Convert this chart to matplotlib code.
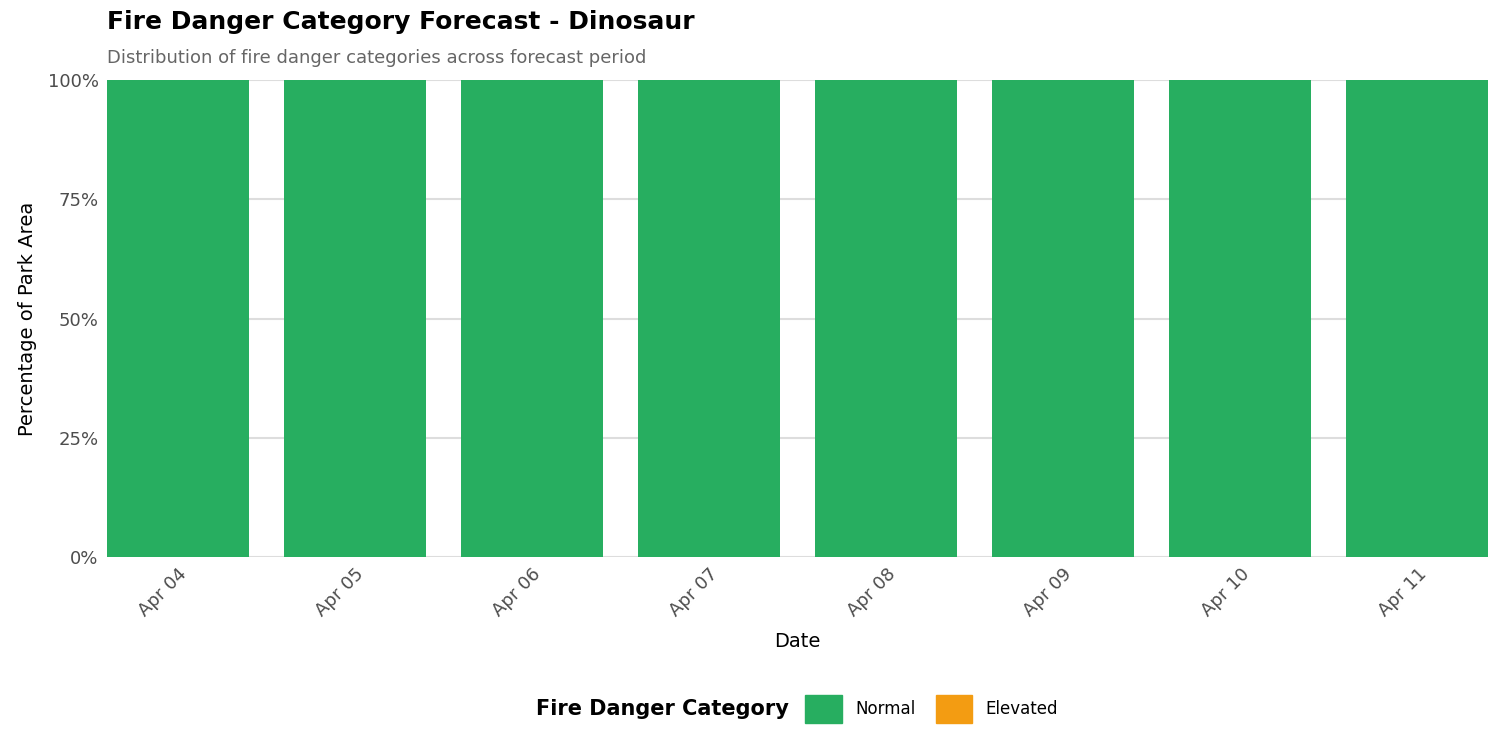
import matplotlib
matplotlib.use("Agg")
import matplotlib.pyplot as plt
from matplotlib.ticker import PercentFormatter
from matplotlib.patches import Patch

dates = ["Apr 04", "Apr 05", "Apr 06", "Apr 07", "Apr 08", "Apr 09", "Apr 10", "Apr 11"]
normal = [1.0] * 8
elevated = [0.0] * 8
categories = ["Normal", "Elevated"]
colors = ["#27AE60", "#F39C12"]

plt.rcParams['font.family'] = ['DejaVu Sans']
fig = plt.figure(figsize=(15, 7.5), dpi=100)
ax = fig.add_axes([107/1500, 1-557/750, (1488-107)/1500, (557-80)/750])
x = range(len(dates))
ax.bar(x, normal, width=0.8, color=colors[0], zorder=2)
ax.bar(x, elevated, width=0.8, bottom=normal, color=colors[1], zorder=2)
ax.set_xlim(-0.4, 7.4)
ax.set_ylim(0, 1)
ax.set_yticks([0, .25, .5, .75, 1])
ax.yaxis.set_major_formatter(PercentFormatter(1.0, decimals=0))
ax.set_xticks(list(x))
ax.set_xticklabels(dates, rotation=45, ha="right", rotation_mode="anchor")
ax.tick_params(axis='both', length=0, labelsize=13, colors="#4d4d4d", pad=6)
ax.grid(axis='y', color="#dddddd", linewidth=1.5, zorder=0)
for s in ax.spines.values():
    s.set_visible(False)
ax.set_xlabel("Date", fontsize=14, labelpad=8)
ax.set_ylabel("Percentage of Park Area", fontsize=14, labelpad=8)
fig.text(107/1500, 1-22/750, "Fire Danger Category Forecast - Dinosaur", fontsize=18,
         fontweight="bold", va="center")
fig.text(107/1500, 1-58/750, "Distribution of fire danger categories across forecast period",
         fontsize=13, color="#666666", va="center")
handles = [Patch(color=c, label=l) for c, l in zip(colors, categories)]
leg = fig.legend(handles=handles, loc="center", bbox_to_anchor=(797/1500, 1-709/750),
                 ncol=2, frameon=False, title="Fire Danger Category",
                 title_fontproperties={"weight": "bold", "size": 15}, fontsize=12,
                 handlelength=2.2, handleheight=2.2, columnspacing=1.2)
leg._legend_box.align = "left"
# title to the left of entries
from matplotlib.offsetbox import HPacker
box = leg._legend_box
box.__class__ = HPacker
box.sep = 12
box.align = "center"
fig.savefig("out.png", dpi=100)
